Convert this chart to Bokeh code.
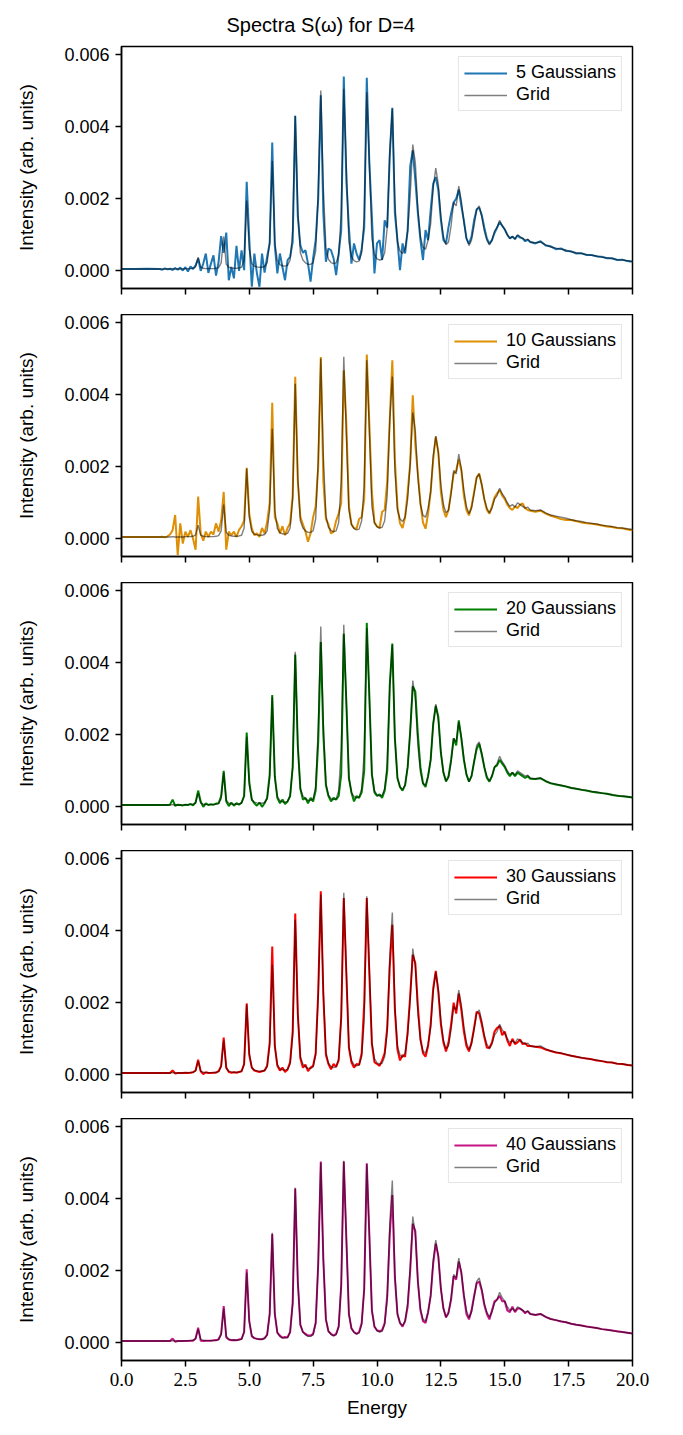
import numpy as np
from bokeh.plotting import figure
from bokeh.layouts import column
from bokeh.models import (ColumnDataSource, Range1d, FixedTicker, NumeralTickFormatter,
                          CustomJSTickFormatter, Legend, LegendItem)
from bokeh.embed import file_html
from bokeh.resources import INLINE

# ---------------- data (intensity in units of 1e-3) ----------------
energy_head = [0.0, 0.5, 1.0]
energy_body = [round(1.5 + 0.1 * i, 1) for i in range(146)]
energy_tail = [round(16.2 + 0.2 * i, 1) for i in range(20)]
energy = energy_head + energy_body + energy_tail

grid_milli = [
    0.05, 0.05, 0.05,
    0.05, 0.05, 0.05, 0.05, 0.05, 0.06, 0.05, 0.05, 0.05, 0.05,
    0.06, 0.06, 0.06, 0.07, 0.11, 0.38, 0.10, 0.07, 0.06, 0.06,
    0.06, 0.06, 0.07, 0.09, 0.22, 0.95, 0.18, 0.10, 0.08, 0.07,
    0.07, 0.08, 0.10, 0.30, 1.95, 0.60, 0.20, 0.13, 0.11, 0.10,
    0.10, 0.12, 0.22, 0.80, 3.05, 0.80, 0.28, 0.17, 0.14, 0.13,
    0.15, 0.30, 1.10, 4.30, 1.70, 0.50, 0.30, 0.22, 0.18, 0.18,
    0.22, 0.55, 2.20, 5.00, 2.30, 0.65, 0.32, 0.23, 0.20, 0.22,
    0.45, 1.60, 5.05, 2.90, 0.80, 0.40, 0.28, 0.25, 0.27, 0.50,
    1.50, 4.95, 3.00, 0.90, 0.45, 0.33, 0.30, 0.32, 0.50, 1.20,
    3.30, 4.50, 1.90, 0.80, 0.55, 0.48, 0.60, 1.10, 2.10, 3.50,
    3.00, 1.70, 0.95, 0.65, 0.60, 0.85, 1.30, 2.30, 2.85, 2.40,
    1.50, 0.95, 0.72, 0.80, 1.25, 1.90, 1.80, 2.35, 1.95, 1.35,
    0.90, 0.70, 0.85, 1.25, 1.70, 1.80, 1.50, 1.10, 0.85, 0.72,
    0.85, 1.10, 1.20, 1.40, 1.25, 1.15, 1.00, 0.90, 0.95, 0.88,
    1.00, 0.95, 0.90, 0.85, 0.88, 0.80,
    0.78, 0.80, 0.72, 0.66, 0.63, 0.60, 0.57, 0.53, 0.50, 0.48,
    0.45, 0.43, 0.41, 0.38, 0.36, 0.34, 0.31, 0.30, 0.28, 0.26,
]

gauss5_milli = [
    0.05, 0.05, 0.06,
    0.05, 0.03, 0.07, 0.04, 0.06, 0.02, 0.08, 0.03, 0.09, 0.01,
    0.10, -0.02, 0.12, 0.05, 0.15, 0.34, 0.00, 0.20, 0.48, -0.06,
    0.20, 0.43, -0.13, 0.25, 0.96, 0.50, 1.06, -0.26, 0.11, -0.21,
    0.69, 0.00, 0.57, 0.02, 2.47, 0.90, -0.44, 0.48, -0.07, -0.44,
    0.48, -0.05, 0.39, 0.76, 3.56, 0.70, -0.07, 0.48, 0.10, -0.26,
    0.30, 0.39, 0.80, 4.30, 1.50, 0.71, 0.50, 0.57, 0.20, -0.30,
    0.35, 0.85, 2.00, 4.87, 1.60, 0.25, 0.62, 0.57, 0.35, -0.12,
    0.48, 1.13, 5.39, 2.50, 1.20, 0.20, 0.76, 0.48, 0.30, 0.60,
    1.20, 5.35, 3.00, 1.50, -0.07, 0.76, 0.85, 0.30, 1.40, 1.20,
    3.20, 4.52, 1.59, 0.85, 0.02, 0.76, 0.48, 1.13, 2.90, 3.34,
    2.52, 1.60, 0.85, 0.30, 1.13, 0.85, 1.68, 2.42, 2.60, 2.24,
    1.41, 0.85, 0.76, 1.22, 1.59, 1.90, 2.00, 2.25, 1.80, 1.40,
    0.90, 0.75, 0.95, 1.40, 1.70, 1.75, 1.55, 1.20, 0.90, 0.75,
    0.85, 1.05, 1.20, 1.35, 1.25, 1.15, 1.00, 0.90, 0.95, 0.88,
    0.98, 0.92, 0.90, 0.82, 0.86, 0.80,
    0.76, 0.82, 0.70, 0.68, 0.60, 0.62, 0.55, 0.54, 0.48, 0.49,
    0.44, 0.44, 0.40, 0.39, 0.35, 0.35, 0.30, 0.31, 0.27, 0.25,
]

gauss10_milli = [
    0.05, 0.05, 0.05,
    0.05, 0.06, 0.04, 0.07, 0.12, 0.24, 0.66, -0.45, 0.43, -0.13,
    0.20, 0.05, 0.24, 0.00, -0.30, 1.17, 0.15, -0.05, 0.20, 0.05,
    0.20, 0.12, 0.43, 0.20, 0.50, 1.30, -0.30, 0.20, 0.10, 0.20,
    0.05, 0.25, 0.35, 0.50, 1.97, 0.70, 0.29, 0.10, 0.15, 0.05,
    0.30, 0.15, 0.47, 1.00, 3.77, 0.60, 0.43, 0.15, 0.35, 0.10,
    0.30, 0.43, 1.20, 4.49, 1.60, 0.61, 0.40, 0.20, -0.08, 0.15,
    0.60, 0.90, 2.00, 5.04, 1.60, 0.55, 0.40, 0.15, 0.20, 0.50,
    0.70, 1.00, 4.67, 3.20, 0.90, 0.40, 0.30, 0.28, 0.55, 0.60,
    1.10, 5.11, 3.20, 1.30, 0.45, 0.35, 0.30, 0.75, 0.80, 1.60,
    3.30, 4.95, 2.20, 0.90, 0.43, 0.30, 0.60, 1.30, 2.10, 3.98,
    2.60, 1.80, 1.00, 0.45, 0.28, 0.70, 1.30, 2.20, 2.83, 2.40,
    1.30, 0.80, 0.60, 0.80, 1.30, 1.80, 1.90, 2.20, 1.90, 1.20,
    0.80, 0.65, 0.90, 1.30, 1.70, 1.81, 1.50, 1.10, 0.80, 0.70,
    0.90, 1.15, 1.26, 1.35, 1.20, 1.10, 0.95, 0.85, 0.80, 0.90,
    0.85, 0.95, 0.98, 0.85, 0.80, 0.78,
    0.75, 0.78, 0.70, 0.64, 0.60, 0.55, 0.52, 0.52, 0.49, 0.45,
    0.43, 0.42, 0.40, 0.37, 0.34, 0.33, 0.30, 0.29, 0.26, 0.24,
]

gauss20_milli = [
    0.05, 0.05, 0.05,
    0.05, 0.05, 0.05, 0.05, 0.06, 0.20, 0.03, 0.06, 0.05, 0.04,
    0.06, 0.05, 0.08, 0.04, 0.12, 0.45, 0.15, 0.00, 0.10, 0.05,
    0.07, 0.06, 0.09, 0.10, 0.30, 1.00, 0.15, 0.02, 0.12, 0.03,
    0.10, 0.06, 0.12, 0.30, 2.06, 0.70, 0.20, 0.10, 0.03, 0.12,
    0.00, 0.10, 0.25, 0.90, 3.10, 0.85, 0.25, 0.10, 0.20, 0.08,
    0.15, 0.30, 1.10, 4.22, 1.70, 0.50, 0.20, 0.25, 0.10, 0.25,
    0.15, 0.45, 1.80, 4.57, 2.00, 0.60, 0.30, 0.15, 0.25, 0.20,
    0.30, 0.90, 4.80, 2.90, 0.80, 0.40, 0.15, 0.30, 0.25, 0.40,
    1.00, 5.10, 3.10, 0.90, 0.40, 0.30, 0.35, 0.25, 0.45, 1.00,
    3.38, 4.53, 1.90, 0.80, 0.55, 0.45, 0.60, 1.10, 2.10, 3.34,
    3.20, 2.00, 1.10, 0.65, 0.55, 0.85, 1.30, 2.30, 2.80, 2.50,
    1.50, 0.95, 0.70, 0.85, 1.30, 1.90, 1.70, 2.40, 1.90, 1.30,
    0.90, 0.70, 0.85, 1.25, 1.60, 1.75, 1.45, 1.10, 0.80, 0.70,
    0.85, 1.10, 1.15, 1.30, 1.20, 1.10, 0.95, 0.85, 0.95, 0.85,
    0.95, 0.90, 0.85, 0.80, 0.85, 0.78,
    0.77, 0.79, 0.71, 0.65, 0.62, 0.59, 0.56, 0.52, 0.50, 0.47,
    0.45, 0.42, 0.40, 0.38, 0.36, 0.33, 0.31, 0.29, 0.28, 0.26,
]

gauss30_milli = [
    0.05, 0.05, 0.05,
    0.05, 0.05, 0.05, 0.05, 0.05, 0.12, 0.04, 0.05, 0.05, 0.05,
    0.06, 0.05, 0.06, 0.07, 0.12, 0.42, 0.10, 0.02, 0.07, 0.05,
    0.05, 0.06, 0.06, 0.10, 0.25, 1.03, 0.20, 0.08, 0.06, 0.07,
    0.06, 0.08, 0.10, 0.30, 1.98, 0.55, 0.20, 0.12, 0.10, 0.08,
    0.10, 0.12, 0.25, 0.90, 3.56, 0.80, 0.25, 0.12, 0.20, 0.08,
    0.15, 0.35, 1.20, 4.47, 1.70, 0.45, 0.20, 0.28, 0.10, 0.20,
    0.25, 0.60, 2.30, 5.09, 2.20, 0.55, 0.30, 0.15, 0.30, 0.22,
    0.40, 1.60, 4.90, 2.80, 0.75, 0.35, 0.20, 0.30, 0.28, 0.60,
    2.00, 4.90, 2.80, 0.85, 0.35, 0.30, 0.25, 0.40, 0.60, 1.30,
    3.00, 4.16, 1.80, 0.70, 0.40, 0.55, 0.50, 1.20, 2.20, 3.33,
    3.10, 1.90, 1.00, 0.60, 0.50, 0.80, 1.40, 2.40, 2.88, 2.30,
    1.40, 0.90, 0.65, 0.90, 1.40, 2.00, 1.70, 2.25, 1.80, 1.20,
    0.80, 0.65, 0.90, 1.30, 1.75, 1.70, 1.40, 1.05, 0.75, 0.75,
    0.90, 1.20, 1.30, 1.35, 1.10, 1.20, 0.95, 0.80, 1.00, 0.85,
    0.90, 0.98, 0.85, 0.88, 0.80, 0.80,
    0.78, 0.76, 0.70, 0.66, 0.62, 0.60, 0.56, 0.53, 0.50, 0.47,
    0.45, 0.43, 0.40, 0.38, 0.35, 0.34, 0.31, 0.30, 0.27, 0.26,
]

gauss40_milli = [
    0.05, 0.05, 0.05,
    0.05, 0.05, 0.05, 0.05, 0.05, 0.12, 0.03, 0.05, 0.05, 0.05,
    0.05, 0.05, 0.06, 0.06, 0.12, 0.42, 0.06, 0.05, 0.06, 0.06,
    0.06, 0.07, 0.07, 0.10, 0.25, 1.02, 0.15, 0.09, 0.07, 0.08,
    0.07, 0.09, 0.11, 0.30, 2.04, 0.60, 0.18, 0.13, 0.11, 0.10,
    0.10, 0.13, 0.22, 0.80, 3.02, 0.80, 0.28, 0.20, 0.14, 0.16,
    0.15, 0.30, 1.10, 4.28, 1.70, 0.50, 0.30, 0.25, 0.20, 0.20,
    0.25, 0.55, 2.20, 5.03, 2.30, 0.65, 0.32, 0.25, 0.20, 0.25,
    0.45, 1.60, 5.03, 2.90, 0.80, 0.40, 0.30, 0.25, 0.30, 0.55,
    1.50, 4.98, 3.00, 0.90, 0.45, 0.35, 0.32, 0.35, 0.55, 1.30,
    3.00, 4.10, 1.80, 0.80, 0.55, 0.45, 0.60, 1.00, 2.00, 3.30,
    3.10, 1.70, 0.90, 0.60, 0.55, 0.85, 1.30, 2.20, 2.75, 2.40,
    1.50, 0.95, 0.70, 0.85, 1.20, 1.85, 1.75, 2.25, 1.95, 1.30,
    0.80, 0.65, 0.90, 1.30, 1.65, 1.70, 1.45, 1.05, 0.80, 0.65,
    0.90, 1.15, 1.20, 1.30, 1.15, 1.15, 0.90, 0.85, 1.00, 0.85,
    0.95, 0.95, 0.90, 0.82, 0.88, 0.80,
    0.77, 0.80, 0.72, 0.66, 0.63, 0.59, 0.57, 0.53, 0.50, 0.48,
    0.45, 0.43, 0.41, 0.38, 0.36, 0.34, 0.32, 0.30, 0.28, 0.26,
]

series_labels = ["5 Gaussians", "10 Gaussians", "20 Gaussians", "30 Gaussians", "40 Gaussians"]
series_values = [gauss5_milli, gauss10_milli, gauss20_milli, gauss30_milli, gauss40_milli]
series_colors = ["#1f77b4", "#de8f05", "#008000", "#ff0000", "#c71585"]
x_ticks = [0.0, 2.5, 5.0, 7.5, 10.0, 12.5, 15.0, 17.5, 20.0]
y_ticks = [0.0, 0.002, 0.004, 0.006]

for s in series_values + [grid_milli]:
    assert len(s) == len(energy), (len(s), len(energy))

SANS = "Liberation Sans"
SERIF = "Liberation Serif"
INK = "black"

figs = []
n = len(series_labels)
for k in range(n):
    first = k == 0
    last = k == n - 1
    top = 46 if first else 0
    bottom = 75 if last else 26
    p = figure(width=683, height=242 + top + bottom,
               x_range=Range1d(0, 20), y_range=Range1d(-0.00049, 0.00622),
               output_backend="svg", toolbar_location=None,
               min_border_left=121, min_border_right=51,
               min_border_top=top, min_border_bottom=bottom)
    p.xgrid.visible = False
    p.ygrid.visible = False
    p.outline_line_color = "black"
    p.outline_line_alpha = 1.0
    p.outline_line_width = 1.5
    p.background_fill_color = "white"
    p.border_fill_color = "white"

    src = ColumnDataSource(dict(
        energy=energy,
        gauss=np.array(series_values[k]) * 1e-3,
        grid=np.array(grid_milli) * 1e-3,
    ))
    r_g = p.line("energy", "gauss", source=src, line_color=series_colors[k], line_width=2.0)
    r_grid = p.line("energy", "grid", source=src, line_color="black", line_alpha=0.5, line_width=1.4)

    for ax in (p.xaxis[0], p.yaxis[0]):
        ax.axis_line_width = 1.5
        ax.axis_line_color = "black"
        ax.major_tick_line_width = 1.5
        ax.major_tick_line_color = "black"
        ax.major_tick_in = 0
        ax.major_tick_out = 6
        ax.minor_tick_line_color = None
        ax.major_label_text_color = INK
        ax.axis_label_text_color = INK

    p.yaxis.ticker = FixedTicker(ticks=y_ticks)
    p.yaxis.formatter = NumeralTickFormatter(format="0.000")
    p.yaxis.major_label_text_font = SANS
    p.yaxis.major_label_text_font_size = "18px"
    p.yaxis.major_label_standoff = 6
    p.yaxis.axis_label = "Intensity (arb. units)"
    p.yaxis.axis_label_text_font = SANS
    p.yaxis.axis_label_text_font_size = "19px"
    p.yaxis.axis_label_text_font_style = "normal"
    p.yaxis.axis_label_standoff = 24

    p.xaxis.ticker = FixedTicker(ticks=x_ticks)
    if last:
        p.xaxis.formatter = NumeralTickFormatter(format="0.0")
        p.xaxis.major_label_text_font = SERIF
        p.xaxis.major_label_text_font_size = "19px"
        p.xaxis.major_label_standoff = 6
        p.xaxis.axis_label = "Energy"
        p.xaxis.axis_label_text_font = SANS
        p.xaxis.axis_label_text_font_size = "19px"
        p.xaxis.axis_label_text_font_style = "normal"
        p.xaxis.axis_label_standoff = 8
    else:
        p.xaxis.formatter = CustomJSTickFormatter(code="return ''")

    legend = Legend(items=[LegendItem(label=series_labels[k], renderers=[r_g]),
                           LegendItem(label="Grid", renderers=[r_grid])],
                    location="top_right")
    legend.label_text_font = SANS
    legend.label_text_font_size = "18px"
    legend.label_text_color = INK
    legend.glyph_width = 43
    legend.glyph_height = 20
    legend.label_height = 20
    legend.label_standoff = 9
    legend.padding = 5
    legend.spacing = 1
    legend.margin = 10
    legend.border_line_color = "#cccccc"
    legend.border_line_width = 1.3
    legend.background_fill_color = "white"
    legend.background_fill_alpha = 0.8
    p.add_layout(legend)

    if first:
        p.title.text = "Spectra S(\u03c9) for D=4"
        p.title.align = "left"
        p.title.offset = 105
        p.title.text_font = SANS
        p.title.text_font_size = "20px"
        p.title.text_font_style = "normal"
        p.title.text_color = INK
        p.title.standoff = 22
    figs.append(p)

layout = column(*figs, spacing=0)
open("out.html", "w").write(file_html(layout, INLINE))
